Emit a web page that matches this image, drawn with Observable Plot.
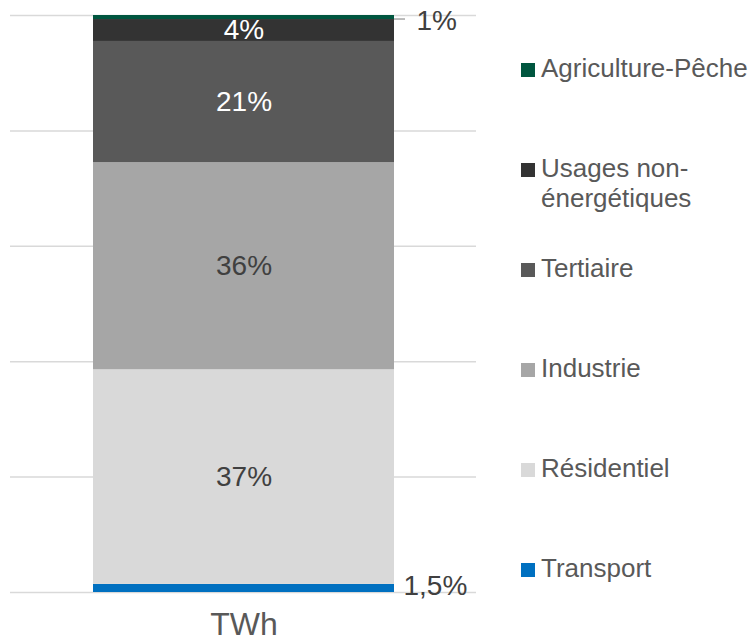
<!DOCTYPE html>
<html><head><meta charset="utf-8">
<script src="https://cdn.jsdelivr.net/npm/d3@7"></script>
<script src="https://cdn.jsdelivr.net/npm/@observablehq/plot@0.6"></script>
<style>body{margin:0;background:#fff} #chart{width:756px;height:643px}</style>
</head><body><div id="chart"></div>
<script>
const category = "TWh";
const sectors = ["Transport", "Résidentiel", "Industrie", "Tertiaire", "Usages non-énergétiques", "Agriculture-Pêche"];
const shares = [1.4, 37.2, 35.9, 21.0, 3.8, 0.7];
const shareLabels = ["1,5%", "37%", "36%", "21%", "4%", "1%"];
const gridTicks = [0, 20, 40, 60, 80, 100];
const palette = ["#0070C0", "#D9D9D9", "#A6A6A6", "#595959", "#333333", "#00563F"];

const data = sectors.map((s, i) => ({category, sector: s, share: shares[i], label: shareLabels[i]}));
const FONT = '"Liberation Sans", Arial, Helvetica, sans-serif';
const pick = (names) => d => names.includes(d.sector) ? d.label : null;
const base = {x: "category", y: "share", z: "sector"};

const plot = Plot.plot({
  width: 756, height: 643,
  marginTop: 15, marginBottom: 51, marginLeft: 10, marginRight: 280,
  style: {fontFamily: FONT, background: "#fff"},
  x: {domain: [category], padding: 0.215, label: null},
  y: {domain: [0, 100], axis: null},
  color: {domain: sectors, range: palette},
  opacity: {type: "identity"},
  marks: [
    Plot.ruleY(gridTicks, {stroke: "#d9d9d9", strokeWidth: 1.5}),
    Plot.barY(data, {x: "category", y: "share", fill: "sector"}),
    Plot.axisX({tickSize: 0, tickPadding: 20, fontSize: 32, color: "#595959", label: null}),
    Plot.textY(data, Plot.stackY({...base, text: pick(["Tertiaire", "Usages non-énergétiques"]), fill: "#ffffff", fontSize: 28})),
    Plot.textY(data, Plot.stackY({...base, text: pick(["Industrie", "Résidentiel"]), fill: "#404040", fontSize: 28})),
    Plot.textY(data, Plot.stackY({...base, text: pick(["Agriculture-Pêche"]), fill: "#404040", fontSize: 28, textAnchor: "start", dx: 172.5, dy: 4})),
    Plot.textY(data, Plot.stackY({...base, text: pick(["Transport"]), fill: "#404040", fontSize: 28, textAnchor: "start", dx: 159.5, dy: -2})),
    Plot.tickY(data, Plot.stackY({...base, strokeOpacity: d => d.sector === "Agriculture-Pêche" ? 1 : 0, stroke: "#a6a6a6", strokeWidth: 1.5, insetRight: 290, dx: 301, dy: 1.5}))
  ]
});

// Legend (top to bottom = reverse stacking order)
const svg = d3.select(plot);
const legend = svg.append("g").attr("font-family", FONT).attr("font-size", 26).attr("fill", "#595959").attr("text-anchor", "start");
const legendOrder = sectors.map((s, i) => i).reverse();
legendOrder.forEach((i, k) => {
  const baseline = 77 + k * 100;
  legend.append("rect").attr("x", 521).attr("y", baseline - 14).attr("width", 14).attr("height", 14).attr("fill", palette[i]);
  const name = sectors[i];
  const lines = name.includes("non-") ? [name.slice(0, name.indexOf("non-") + 4), name.slice(name.indexOf("non-") + 4)] : [name];
  const t = legend.append("text").attr("x", 541).attr("y", baseline).attr("text-anchor", "start");
  lines.forEach((ln, j) => t.append("tspan").attr("x", 541).attr("dy", j === 0 ? 0 : 30).text(ln));
});

document.getElementById("chart").append(plot);
</script>
</body></html>
